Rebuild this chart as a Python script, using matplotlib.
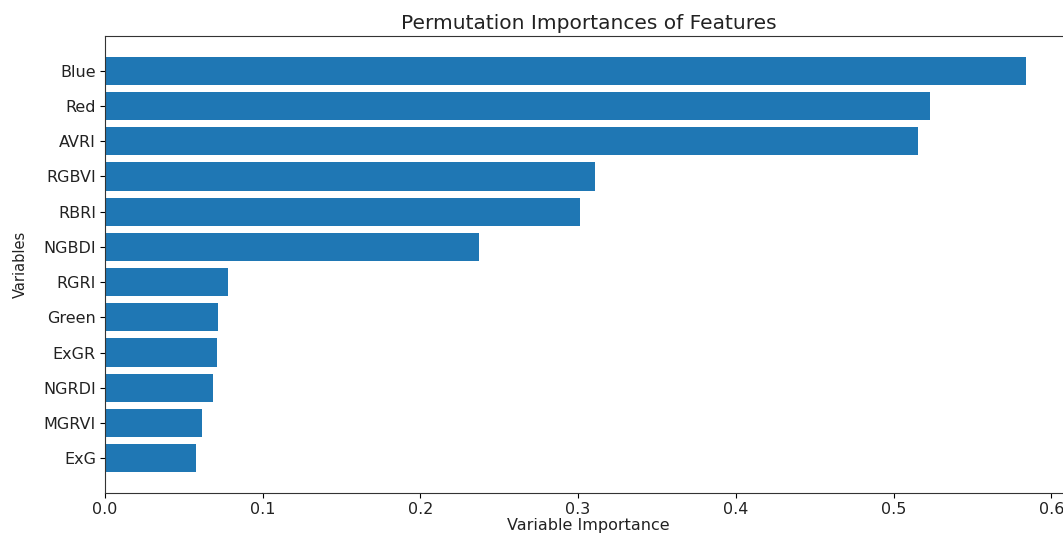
import matplotlib
matplotlib.use("Agg")
import matplotlib.pyplot as plt

features = ["Blue", "Red", "AVRI", "RGBVI", "RBRI", "NGBDI",
            "RGRI", "Green", "ExGR", "NGRDI", "MGRVI", "ExG"]
importances = [0.584, 0.523, 0.5155, 0.311, 0.301, 0.237,
               0.078, 0.0717, 0.071, 0.0685, 0.0615, 0.0577]

# plot smallest at the bottom
feat_sorted = features[::-1]
imp_sorted = importances[::-1]

text_color = "#222222"
fig = plt.figure(figsize=(10.63, 5.36), dpi=100)
ax = fig.add_axes([0.0988, 0.0802, 0.9097, 0.8526])
ax.barh(feat_sorted, imp_sorted, color="#1f77b4")
ax.set_xticks([0.0, 0.1, 0.2, 0.3, 0.4, 0.5, 0.6])
ax.tick_params(labelsize=11.5, labelcolor=text_color, pad=3)
ax.set_xlabel("Variable Importance", fontsize=11.5, color=text_color, labelpad=1)
ax.set_ylabel("Variables", fontsize=10.5, color=text_color, labelpad=11)
ax.set_title("Permutation Importances of Features", fontsize=14.5,
             color=text_color, pad=5)
for s in ax.spines.values():
    s.set_color("#333333")

fig.savefig("out.png", dpi=100)
